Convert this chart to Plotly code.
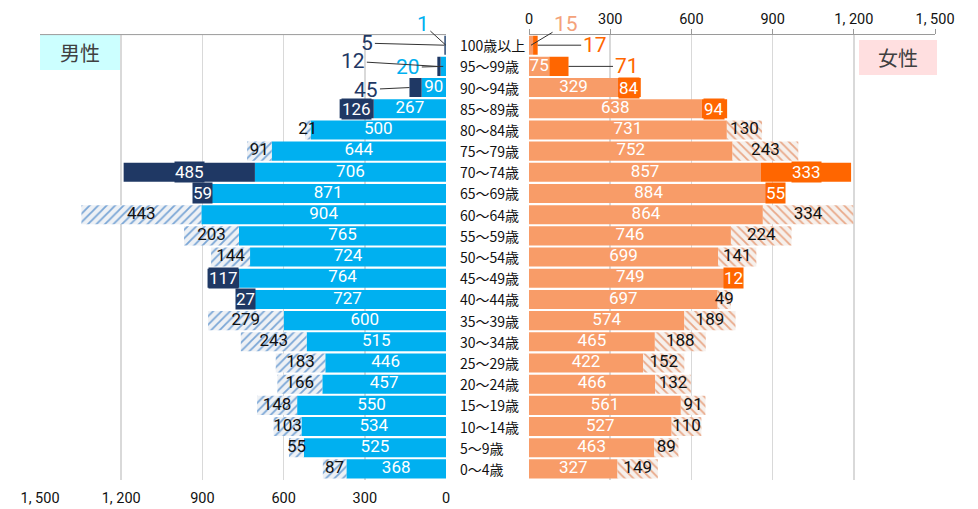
import plotly.graph_objects as go

W, H = 978, 509

age_groups = ["100歳以上", "95～99歳", "90～94歳", "85～89歳", "80～84歳", "75～79歳",
              "70～74歳", "65～69歳", "60～64歳", "55～59歳", "50～54歳", "45～49歳",
              "40～44歳", "35～39歳", "30～34歳", "25～29歳", "20～24歳", "15～19歳",
              "10～14歳", "5～9歳", "0～4歳"]

male_base = [1, 20, 90, 267, 500, 644, 706, 871, 904, 765, 724, 764, 727, 600, 515, 446,
             457, 550, 534, 525, 368]
male_diff = [5, 12, 45, 126, -21, -91, 485, 59, -443, -203, -144, 117, 27, -279, -243, -183,
             -166, -148, -103, -55, -87]
female_base = [15, 75, 329, 638, 731, 752, 857, 884, 864, 746, 699, 749, 697, 574, 465, 422,
               466, 561, 527, 463, 327]
female_diff = [17, 71, 84, 94, -130, -243, 333, 55, -334, -224, -141, 12, -49, -189, -188,
               -152, -132, -91, -110, -89, -149]

tick_vals = [0, 300, 600, 900, 1200, 1500]
tick_text = ["0", "300", "600", "900", "1, 200", "1, 500"]

# rows whose labels are drawn as call-outs instead of inside the bar
male_base_callouts = {0: (-23, -21), 1: (-35, 1)}
male_diff_callouts = {0: (-77, -2), 1: (-84, -5), 2: (-43, 2)}
female_base_callouts = {0: (35, -21)}
female_diff_callouts = {0: (57, 0), 1: (58, 0)}

C_M = "#00b0f0"
C_M_UP = "#1f3864"
C_F = "#f89c68"
C_F_UP = "#ff6600"
NUMFONT = "Roboto, Liberation Sans, sans-serif"
JPFONT = "Noto Sans CJK JP, sans-serif"
NUMSIZE = 17

fig = go.Figure()


def add_side(base, diff, xaxis, col, col_up, hatch_shape, hatch_fg, hatch_bg):
    up = [d if d > 0 else None for d in diff]
    down = [-d if d < 0 else None for d in diff]
    fig.add_trace(go.Bar(y=age_groups, x=base, orientation="h", xaxis=xaxis, yaxis="y",
                         marker=dict(color=col, line=dict(width=0)), hoverinfo="skip"))
    fig.add_trace(go.Bar(y=age_groups, x=up, base=base, orientation="h", xaxis=xaxis, yaxis="y",
                         marker=dict(color=col_up, line=dict(width=0)), hoverinfo="skip"))
    fig.add_trace(go.Bar(y=age_groups, x=down, base=base, orientation="h", xaxis=xaxis, yaxis="y",
                         marker=dict(color=hatch_bg, line=dict(width=0),
                                     pattern=dict(shape=hatch_shape, fgcolor=hatch_fg,
                                                  bgcolor=hatch_bg, size=6, solidity=0.3,
                                                  fillmode="replace")),
                         hoverinfo="skip"))


add_side(male_base, male_diff, "x", C_M, C_M_UP, "/", "#7aa6d6", "#eef1f5")
add_side(female_base, female_diff, "x2", C_F, C_F_UP, "\\", "#e9a888", "#f6f0ec")

annotations = []


def labels(base, diff, xaxis, base_callouts, diff_callouts, base_col, up_col):
    bx, by, bt = [], [], []
    for i, (g, b) in enumerate(zip(age_groups, base)):
        if i in base_callouts:
            ax, ay = base_callouts[i]
            annotations.append(dict(x=b / 2, y=g, xref=xaxis, yref="y", text=str(b),
                                    ax=ax, ay=ay, showarrow=True, arrowhead=0, arrowwidth=1,
                                    arrowcolor="#333333",
                                    font=dict(family=NUMFONT, size=21, color=base_col)))
        else:
            bx.append(b / 2); by.append(g); bt.append(str(b))
    fig.add_trace(go.Scatter(x=bx, y=by, text=bt, mode="text", xaxis=xaxis, yaxis="y",
                             cliponaxis=False,
                             textfont=dict(family=NUMFONT, size=NUMSIZE, color="white"),
                             hoverinfo="skip"))
    dx, dy, dt = [], [], []
    for i, (g, b, d) in enumerate(zip(age_groups, base, diff)):
        mid = b + abs(d) / 2
        if i in diff_callouts:
            ax, ay = diff_callouts[i]
            annotations.append(dict(x=b + abs(d), y=g, xref=xaxis, yref="y", text=str(abs(d)),
                                    ax=ax, ay=ay, showarrow=True, arrowhead=0, arrowwidth=1,
                                    arrowcolor="#333333",
                                    font=dict(family=NUMFONT, size=21, color=up_col)))
        elif d > 0:
            annotations.append(dict(x=mid, y=g, xref=xaxis, yref="y", text=str(d),
                                    showarrow=False, bgcolor=up_col, borderpad=0,
                                    font=dict(family=NUMFONT, size=NUMSIZE, color="white")))
        else:
            dx.append(mid); dy.append(g); dt.append(str(-d))
    fig.add_trace(go.Scatter(x=dx, y=dy, text=dt, mode="text", xaxis=xaxis, yaxis="y",
                             cliponaxis=False,
                             textfont=dict(family=NUMFONT, size=NUMSIZE, color="#111111"),
                             hoverinfo="skip"))


labels(male_base, male_diff, "x", male_base_callouts, male_diff_callouts, C_M, C_M_UP)
labels(female_base, female_diff, "x2", female_base_callouts, female_diff_callouts,
       "#f4a27a", C_F_UP)

for g in age_groups:
    annotations.append(dict(x=458 / W, y=g, xref="paper", yref="y", text=g, showarrow=False,
                            xanchor="left", font=dict(family=JPFONT, size=14, color="#111111")))

annotations.append(dict(x=80 / W, y=1 - 52.5 / H, xref="paper", yref="paper", text="男性",
                        showarrow=False, xanchor="center", yanchor="middle",
                        font=dict(family=JPFONT, size=20, color="#404040")))
annotations.append(dict(x=898 / W, y=1 - 57.5 / H, xref="paper", yref="paper", text="女性",
                        showarrow=False, xanchor="center", yanchor="middle",
                        font=dict(family=JPFONT, size=20, color="#404040")))

shapes = [
    dict(type="rect", xref="paper", yref="paper", x0=40 / W, x1=120 / W,
         y0=1 - 70 / H, y1=1 - 35 / H, fillcolor="#ccffff", line=dict(width=0), layer="below"),
    dict(type="rect", xref="paper", yref="paper", x0=859 / W, x1=937 / W,
         y0=1 - 75 / H, y1=1 - 40 / H, fillcolor="#ffdfe0", line=dict(width=0), layer="below"),
    dict(type="line", xref="paper", yref="paper", x0=40 / W, x1=446 / W,
         y0=1 - 34.6 / H, y1=1 - 34.6 / H, line=dict(color="#9a9a9a", width=1)),
]

fig.update_layout(
    template="none",
    width=W, height=H, margin=dict(l=0, r=0, t=0, b=0, pad=0), autosize=False,
    paper_bgcolor="white", plot_bgcolor="white",
    showlegend=False, barmode="overlay", bargap=0.1,
    xaxis=dict(domain=[40 / W, 446 / W], range=[1500, 0], tickvals=tick_vals,
               ticktext=tick_text, side="bottom", anchor="y", showgrid=True, automargin=False,
               gridcolor="#d9d9d9", gridwidth=1.5, zeroline=False, showline=False, ticks="",
               ticklabelstandoff=8, tickfont=dict(family=NUMFONT, size=14.5, color="#111111")),
    xaxis2=dict(domain=[529 / W, 935 / W], range=[0, 1500], tickvals=tick_vals,
                ticktext=tick_text, side="top", anchor="y", showgrid=True, automargin=False,
                gridcolor="#d9d9d9", gridwidth=1.5, zeroline=False, showline=True,
                linecolor="#9a9a9a", ticks="outside", ticklen=5, tickcolor="#9a9a9a",
                ticklabelstandoff=-1, tickfont=dict(family=NUMFONT, size=14.5, color="#111111")),
    yaxis=dict(domain=[1 - 479.5 / H, 1 - 34.6 / H], type="category", automargin=False,
               categoryorder="array", categoryarray=age_groups, range=[20.5, -0.5],
               showticklabels=False, showgrid=False, zeroline=False, showline=False),
    annotations=annotations, shapes=shapes,
)

fig.write_html("out.html", config={"displayModeBar": False, "staticPlot": True},
               post_script="document.body.style.margin='0px';"
                           "document.body.style.padding='0px';"
                           "document.body.style.overflow='hidden';")
